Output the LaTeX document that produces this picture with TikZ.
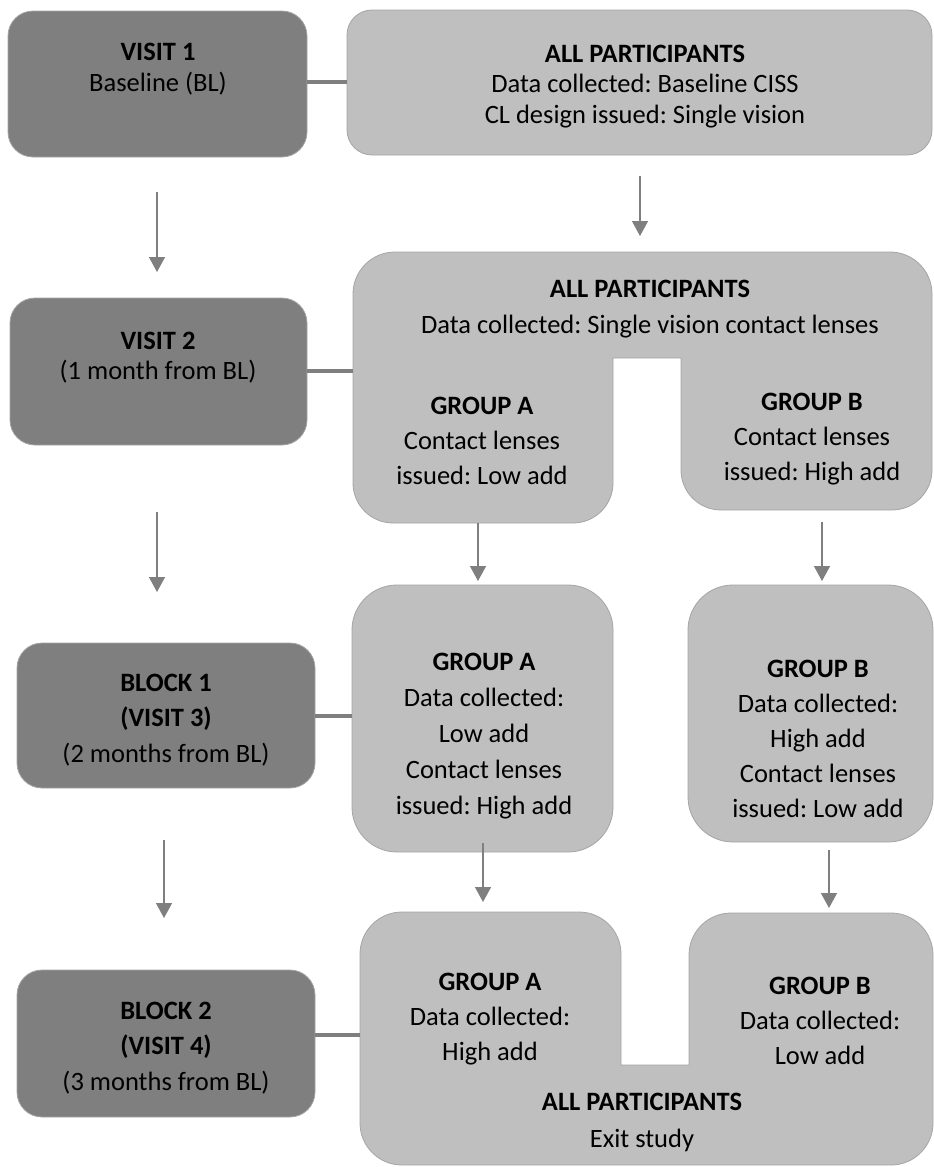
\documentclass[tikz,border=0pt]{standalone}
\usepackage{fontspec}
\setmainfont{Carlito}
\frenchspacing
\usetikzlibrary{arrows.meta}
\definecolor{darkfill}{HTML}{7F7F7F}
\definecolor{lightfill}{HTML}{BFBFBF}
\definecolor{edgegrey}{HTML}{A5A5A5}
\definecolor{linegrey}{HTML}{7F7F7F}
\tikzset{
  dbox/.style={rectangle, rounded corners=25pt, fill=darkfill, draw=edgegrey, line width=0.8pt, inner sep=0pt},
  lbox/.style={rectangle, rounded corners=#1, fill=lightfill, draw=edgegrey, line width=0.8pt, inner sep=0pt},
  lshape/.style={fill=lightfill, draw=edgegrey, line width=0.8pt},
  txt/.style={align=center, inner sep=0pt, text=black, font=\fontsize{26.5}{#1}\selectfont\frenchspacing},
  conn/.style={draw=linegrey, line width=4pt},
  arr/.style={draw=linegrey, line width=1.4pt, -{Triangle[width=16pt,length=15pt]}}
}
\begin{document}
\begin{tikzpicture}[x=1pt,y=1pt]
\useasboundingbox (0,0) rectangle (934,-1167);

% ---- left column boxes
\node[dbox, minimum width=299pt, minimum height=146pt] (v1) at (157.5,-84) {};
\node[dbox, minimum width=297pt, minimum height=147pt] (v2) at (158.5,-371.5) {};
\node[dbox, minimum width=298pt, minimum height=145pt] (b1) at (166,-715.5) {};
\node[dbox, minimum width=298pt, minimum height=147pt] (b2) at (166,-1043.5) {};

\node[txt=30.5pt] (v1t) at (158,-72) {\textbf{VISIT 1}\\Baseline (BL)\strut};
\node[txt=30.5pt] (v2t) at (158,-357.5) {\textbf{VISIT 2}\\(1 month from BL)};
\node[txt=35.5pt] (b1t) at (166,-720) {\textbf{BLOCK 1}\\\textbf{(VISIT 3)}\\(2 months from BL)};
\node[txt=35.5pt] (b2t) at (166,-1048) {\textbf{BLOCK 2}\\\textbf{(VISIT 4)}\\(3 months from BL)};

% ---- right column shapes
\node[lbox=25pt, minimum width=585pt, minimum height=145pt] (ap1) at (639.5,-82.5) {};
\node[txt=30.5pt] (ap1t) at (645,-86.5) {\textbf{ALL PARTICIPANTS}\\Data collected: Baseline CISS\\CL design issued: Single vision};

% visit 2 combined shape
\path[lshape] (353,-294) arc[start angle=180, end angle=90, radius=42]
  -- (890,-252) arc[start angle=90, end angle=0, radius=42]
  -- (932,-470) arc[start angle=0, end angle=-90, radius=40]
  -- (721,-510) arc[start angle=-90, end angle=-180, radius=40]
  -- (681,-358) -- (613,-358)
  -- (613,-483) arc[start angle=0, end angle=-90, radius=40]
  -- (393,-523) arc[start angle=-90, end angle=-180, radius=40]
  -- cycle;
\coordinate (s2w) at (353,-371);
\node[txt=35.5pt] (s2t) at (650,-309) {\textbf{ALL PARTICIPANTS}\\Data collected: Single vision contact lenses};
\node[txt=35pt] (s2a) at (482,-441) {\textbf{GROUP A}\\Contact lenses\\issued: Low add};
\node[txt=35pt] (s2b) at (812,-439) {\textbf{GROUP B}\\Contact lenses\\issued: High add};

% block 1 boxes
\node[lbox=45pt, minimum width=261pt, minimum height=267pt] (g3a) at (482.5,-718.5) {};
\node[lbox=45pt, minimum width=245pt, minimum height=257pt] (g3b) at (810.5,-713.5) {};
\node[txt=36pt] (g3at) at (484,-736) {\textbf{GROUP A}\\Data collected:\\Low add\\Contact lenses\\issued: High add};
\node[txt=35pt] (g3bt) at (818,-739) {\textbf{GROUP B}\\Data collected:\\High add\\Contact lenses\\issued: Low add};

% block 2 combined shape
\path[lshape] (360,-954) arc[start angle=180, end angle=90, radius=42]
  -- (579,-912) arc[start angle=90, end angle=0, radius=42]
  -- (621,-1065) -- (689,-1065)
  -- (689,-955) arc[start angle=180, end angle=90, radius=42]
  -- (891,-913) arc[start angle=90, end angle=0, radius=42]
  -- (933,-1123) arc[start angle=0, end angle=-90, radius=42]
  -- (402,-1165) arc[start angle=-90, end angle=-180, radius=42]
  -- cycle;
\coordinate (s4w) at (360,-1035);
\node[txt=35pt] (s4a) at (490,-1019) {\textbf{GROUP A}\\Data collected:\\High add};
\node[txt=35pt] (s4b) at (820,-1021) {\textbf{GROUP B}\\Data collected:\\Low add};
\node[txt=37pt] (s4t) at (642,-1122.5) {\textbf{ALL PARTICIPANTS}\\Exit study};

% ---- horizontal connectors
\draw[conn] (v1.east |- 0,-82) -- (ap1.west |- 0,-82);
\draw[conn] (v2.east |- s2w) -- (s2w);
\draw[conn] (b1.east |- 0,-716) -- (g3a.west |- 0,-716);
\draw[conn] (b2.east |- s4w) -- (s4w);

% ---- arrows
\coordinate (a1s) at (157,-192); \coordinate (a1e) at (157,-272);
\coordinate (a2s) at (157,-512); \coordinate (a2e) at (157,-592);
\coordinate (a3s) at (164,-840); \coordinate (a3e) at (164,-918);
\coordinate (r1s) at (640,-176); \coordinate (r1e) at (640,-236);
\coordinate (r2s) at (478,-523); \coordinate (r2e) at (478,-581);
\coordinate (r3s) at (822,-522); \coordinate (r3e) at (822,-581);
\coordinate (r4s) at (483,-843); \coordinate (r4e) at (483,-902);
\coordinate (r5s) at (829,-850); \coordinate (r5e) at (829,-908);
\foreach \a in {a1,a2,a3,r1,r2,r3,r4,r5} { \draw[arr] (\a s) -- (\a e); }
\end{tikzpicture}
\end{document}
